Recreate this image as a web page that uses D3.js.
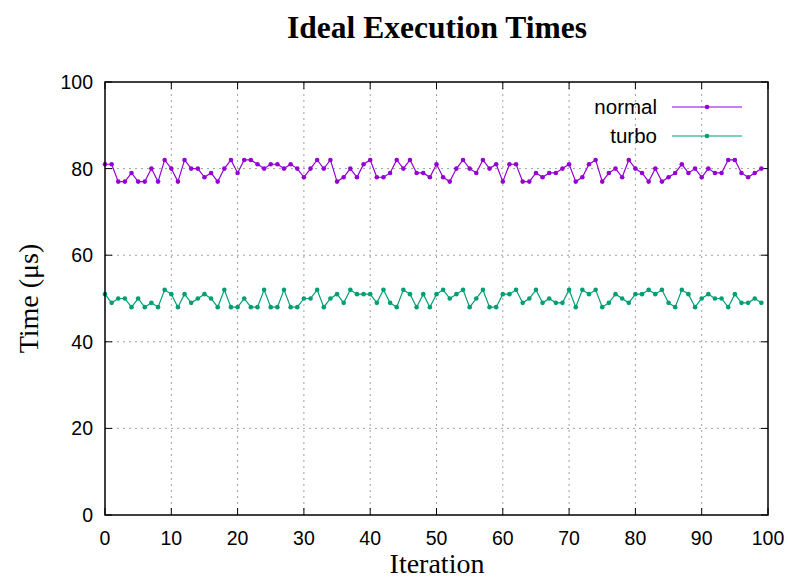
<!DOCTYPE html>
<html>
<head>
  <meta charset="utf-8">
  <title>Ideal Execution Times</title>
  <style>
    body { margin: 0; background: white; }
    .tick-label { font-family: "Liberation Sans", Arial, sans-serif; font-size: 19.5px; fill: black; }
    .legend-label { font-family: "Liberation Sans", Arial, sans-serif; font-size: 20.5px; fill: black; }
    .axis-title { font-family: "Liberation Serif", "Times New Roman", serif; font-size: 28px; fill: black; }
    .title { font-family: "Liberation Serif", "Times New Roman", serif; font-size: 31.5px; font-weight: bold; fill: black; }
    .grid line { stroke: #a0a0a0; stroke-width: 1; stroke-dasharray: 2,4; }
  </style>
</head>
<body>
  <div id="chart"></div>
  <script src="https://d3js.org/d3.v7.min.js"></script>
  <script>
    // values, one per iteration 0..99
    var normal = [81, 81, 77, 77, 79, 77, 77, 80, 77, 82, 80, 77, 82, 80, 80, 78, 79, 77, 80, 82,
      79, 82, 82, 81, 80, 81, 81, 80, 81, 80, 78, 80, 82, 80, 82, 77, 78, 80, 78, 81,
      82, 78, 78, 79, 82, 80, 82, 79, 79, 78, 81, 78, 77, 80, 82, 80, 79, 82, 80, 81,
      77, 81, 81, 77, 77, 79, 78, 79, 79, 80, 81, 77, 78, 81, 82, 77, 79, 80, 78, 82,
      80, 79, 77, 80, 77, 78, 79, 81, 79, 80, 78, 80, 79, 79, 82, 82, 79, 78, 79, 80]

    var turbo = [51, 49, 50, 50, 48, 50, 48, 49, 48, 52, 51, 48, 51, 49, 50, 51, 50, 48, 52, 48,
      48, 50, 48, 48, 52, 48, 48, 52, 48, 48, 50, 50, 52, 48, 50, 51, 49, 52, 51, 51,
      51, 49, 52, 49, 48, 52, 51, 48, 51, 48, 51, 52, 50, 51, 52, 48, 50, 52, 48, 48,
      51, 51, 52, 49, 50, 52, 49, 50, 49, 49, 52, 48, 52, 51, 52, 48, 49, 51, 50, 49,
      51, 51, 52, 51, 52, 49, 48, 52, 51, 48, 50, 51, 50, 50, 48, 51, 49, 49, 50, 49]

    var series = [
      { name: "normal", values: normal, color: "#9400d3" },
      { name: "turbo", values: turbo, color: "#009e73" }
    ]

    var xTicks = d3.range(0, 101, 10)
    var yTicks = d3.range(0, 101, 20)

    var width = 788, height = 580
    var plotLeft = 105, plotRight = 768, plotTop = 82, plotBottom = 515

    var svg = d3.select("#chart").append("svg")
      .attr("width", width)
      .attr("height", height)

    var x = d3.scaleLinear().domain([0, 100]).range([plotLeft, plotRight])
    var y = d3.scaleLinear().domain([0, 100]).range([plotBottom, plotTop])

    // grid
    var grid = svg.append("g").attr("class", "grid")
    grid.selectAll(".gx").data(xTicks.slice(1, -1)).enter().append("line")
      .attr("x1", d => x(d)).attr("x2", d => x(d))
      .attr("y1", plotTop).attr("y2", plotBottom)
    grid.selectAll(".gy").data(yTicks.slice(1, -1)).enter().append("line")
      .attr("x1", plotLeft).attr("x2", plotRight)
      .attr("y1", d => y(d)).attr("y2", d => y(d))

    // inward ticks on all four sides, like gnuplot
    var ticks = svg.append("g").attr("stroke", "black").attr("stroke-width", 1)
    xTicks.forEach(function(d) {
      ticks.append("line").attr("x1", x(d)).attr("x2", x(d)).attr("y1", plotBottom).attr("y2", plotBottom - 7)
      ticks.append("line").attr("x1", x(d)).attr("x2", x(d)).attr("y1", plotTop).attr("y2", plotTop + 7)
    })
    yTicks.forEach(function(d) {
      ticks.append("line").attr("x1", plotLeft).attr("x2", plotLeft + 7).attr("y1", y(d)).attr("y2", y(d))
      ticks.append("line").attr("x1", plotRight).attr("x2", plotRight - 7).attr("y1", y(d)).attr("y2", y(d))
    })

    svg.selectAll(".xl").data(xTicks).enter().append("text")
      .attr("class", "tick-label")
      .attr("x", d => x(d)).attr("y", plotBottom + 30)
      .attr("text-anchor", "middle")
      .text(d => d)

    svg.selectAll(".yl").data(yTicks).enter().append("text")
      .attr("class", "tick-label")
      .attr("x", plotLeft - 12).attr("y", d => y(d) + 7)
      .attr("text-anchor", "end")
      .text(d => d)

    // series
    var line = d3.line().x((d, i) => x(i)).y(d => y(d))
    series.forEach(function(s) {
      svg.append("path")
        .datum(s.values)
        .attr("d", line)
        .attr("fill", "none")
        .attr("stroke", s.color)
        .attr("stroke-width", 1.2)
      svg.append("g").selectAll("circle")
        .data(s.values).enter().append("circle")
        .attr("cx", (d, i) => x(i))
        .attr("cy", d => y(d))
        .attr("r", 2.3)
        .attr("fill", s.color)
    })

    // border
    svg.append("rect")
      .attr("x", plotLeft).attr("y", plotTop)
      .attr("width", plotRight - plotLeft).attr("height", plotBottom - plotTop)
      .attr("fill", "none").attr("stroke", "black").attr("stroke-width", 1.5)

    // legend
    var legend = svg.append("g").selectAll("g")
      .data(series).enter().append("g")
      .attr("transform", (d, i) => "translate(0," + (107 + i * 29) + ")")
    legend.append("text")
      .attr("class", "legend-label")
      .attr("x", 657).attr("y", 7)
      .attr("text-anchor", "end")
      .text(d => d.name)
    legend.append("line")
      .attr("x1", 672).attr("x2", 742)
      .attr("stroke", d => d.color).attr("stroke-width", 1.2)
    legend.append("circle")
      .attr("cx", 707).attr("r", 2.3)
      .attr("fill", d => d.color)

    // titles
    svg.append("text").attr("class", "title")
      .attr("x", 437).attr("y", 38)
      .attr("text-anchor", "middle")
      .text("Ideal Execution Times")

    svg.append("text").attr("class", "axis-title")
      .attr("x", 437).attr("y", 573)
      .attr("text-anchor", "middle")
      .text("Iteration")

    svg.append("text").attr("class", "axis-title")
      .attr("transform", "translate(38," + ((plotTop + plotBottom) / 2) + ") rotate(-90)")
      .attr("text-anchor", "middle")
      .text("Time (μs)")
  </script>
</body>
</html>
